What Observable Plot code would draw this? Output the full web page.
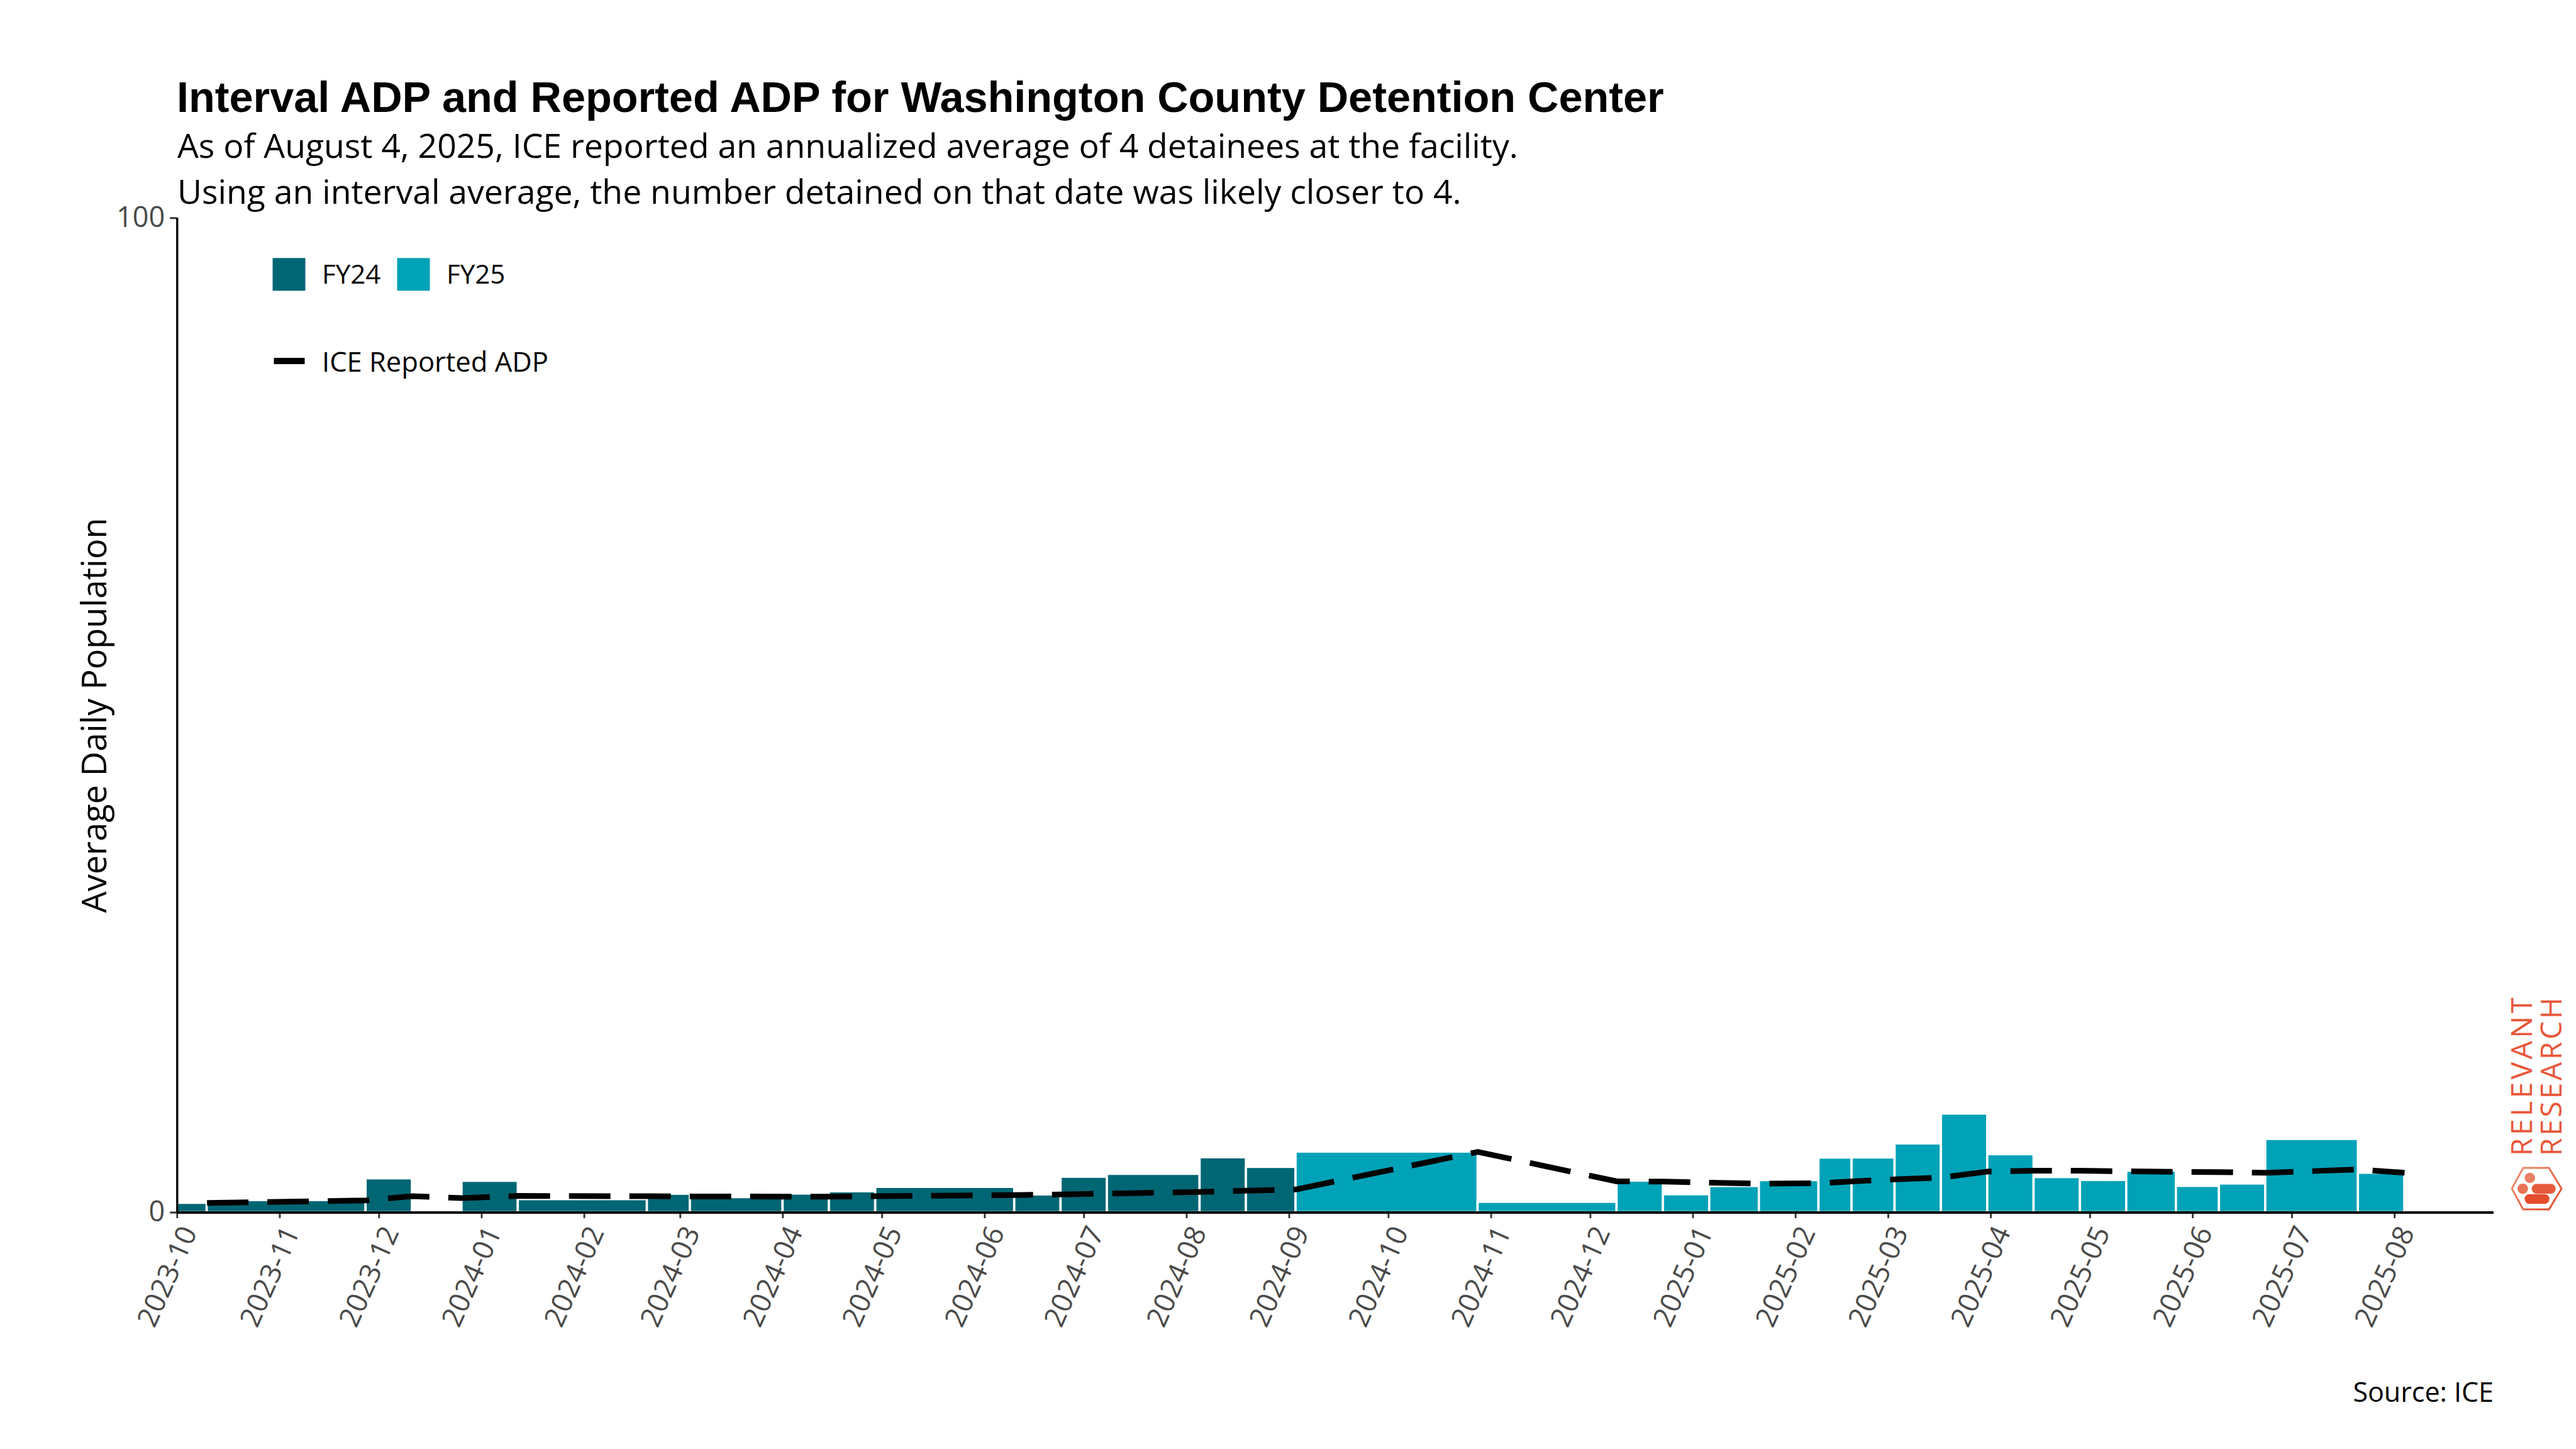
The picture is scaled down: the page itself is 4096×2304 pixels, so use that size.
<!DOCTYPE html>
<html><head><meta charset="utf-8">
<script src="https://cdn.jsdelivr.net/npm/d3@7"></script>
<script src="https://cdn.jsdelivr.net/npm/@observablehq/plot@0.6"></script>
<style>
html,body{margin:0;padding:0;background:#fff;}
#wrap{position:relative;width:4096px;height:2304px;overflow:hidden;background:#fff;}
#wrap > svg{position:absolute;left:0;top:0;}
#subtitle{position:absolute;left:282px;top:193.6px;font-family:'Open Sans','Noto Sans',sans-serif;font-size:53.5px;line-height:normal;color:#000;white-space:nowrap;z-index:2;}
</style></head><body><div id="wrap"></div>
<script>
// ---------- data ----------
const titleText = "Interval ADP and Reported ADP for Washington County Detention Center";
const subtitleLines = [
  "As of August 4, 2025, ICE reported an annualized average of 4 detainees at the facility.",
  "Using an interval average, the number detained on that date was likely closer to 4."
];
const yLabel = "Average Daily Population";
const sourceText = "Source: ICE";
const lineLegend = "ICE Reported ADP";

const fyNames = ["FY24", "FY25"];
const fyColors = ["#006674", "#00A2B7"];

const intervalStart = ["2023-10-01","2023-10-10","2023-11-27","2023-12-26","2024-01-12","2024-02-20","2024-03-04","2024-04-01","2024-04-15","2024-04-29","2024-06-10","2024-06-24","2024-07-08","2024-08-05","2024-08-19","2024-09-03","2024-10-28","2024-12-09","2024-12-23","2025-01-06","2025-01-21","2025-02-08","2025-02-18","2025-03-03","2025-03-17","2025-03-31","2025-04-14","2025-04-28","2025-05-12","2025-05-27","2025-06-09","2025-06-23","2025-07-21"];
const intervalEnd = ["2023-10-10","2023-11-27","2023-12-11","2024-01-12","2024-02-20","2024-03-04","2024-04-01","2024-04-15","2024-04-29","2024-06-10","2024-06-24","2024-07-08","2024-08-05","2024-08-19","2024-09-03","2024-10-28","2024-12-09","2024-12-23","2025-01-06","2025-01-21","2025-02-08","2025-02-18","2025-03-03","2025-03-17","2025-03-31","2025-04-14","2025-04-28","2025-05-12","2025-05-27","2025-06-09","2025-06-23","2025-07-21","2025-08-04"];
const intervalADP = [0.95,1.22,3.41,3.16,1.32,1.86,1.52,1.88,2.11,2.55,1.79,3.57,3.86,5.53,4.56,6.1,1.05,3.18,1.81,2.64,3.23,5.5,5.51,6.92,9.92,5.84,3.54,3.25,4.18,2.65,2.89,7.37,3.97];
const intervalFY = ["FY24","FY24","FY24","FY24","FY24","FY24","FY24","FY24","FY24","FY24","FY24","FY24","FY24","FY24","FY24","FY25","FY25","FY25","FY25","FY25","FY25","FY25","FY25","FY25","FY25","FY25","FY25","FY25","FY25","FY25","FY25","FY25","FY25"];

const reportDates = ["2023-10-10","2023-11-27","2023-12-11","2023-12-26","2024-01-12","2024-02-20","2024-03-04","2024-04-01","2024-04-15","2024-04-29","2024-06-10","2024-06-24","2024-07-08","2024-08-05","2024-08-19","2024-09-03","2024-10-28","2024-12-09","2024-12-23","2025-01-06","2025-01-21","2025-02-08","2025-02-18","2025-03-03","2025-03-17","2025-03-31","2025-04-14","2025-04-28","2025-05-12","2025-05-27","2025-06-09","2025-06-23","2025-07-21","2025-08-04"];
const reportedADP = [0.97,1.22,1.64,1.45,1.67,1.64,1.62,1.6,1.6,1.64,1.76,1.82,1.9,2.07,2.2,2.32,6.1,3.13,3.11,3.0,2.9,2.95,3.13,3.33,3.52,4.12,4.2,4.2,4.14,4.1,4.06,4.0,4.33,4.0];

const tickLabels = ["2023-10","2023-11","2023-12","2024-01","2024-02","2024-03","2024-04","2024-05","2024-06","2024-07","2024-08","2024-09","2024-10","2024-11","2024-12","2025-01","2025-02","2025-03","2025-04","2025-05","2025-06","2025-07","2025-08"];
const yTicks = [0, 100];
const xDomain = ["2023-10-01", "2025-08-31"];

// ---------- build ----------
const bars = intervalStart.map((s, i) => ({start: new Date(s), end: new Date(intervalEnd[i]), value: intervalADP[i], fy: intervalFY[i]}));
const reported = reportDates.map((d, i) => ({date: new Date(d), value: reportedADP[i]}));
const tickDates = tickLabels.map(t => new Date(t + "-01"));

const FONT = "'Open Sans', 'Noto Sans', sans-serif";

const chart = Plot.plot({
  width: 4096, height: 2304,
  marginLeft: 281.3, marginRight: 131, marginTop: 346.3, marginBottom: 376.5,
  style: {fontFamily: FONT, background: "white", overflow: "visible"},
  x: {type: "utc", domain: xDomain.map(d => new Date(d))},
  y: {domain: [0, 100]},
  color: {domain: fyNames, range: fyColors},
  marks: [
    Plot.rectY(bars, {x1: "start", x2: "end", y: "value", fill: "fy", stroke: "white", strokeWidth: 3.6}),
    Plot.line(reported, {x: "date", y: "value", stroke: "black", strokeWidth: 9, strokeDasharray: "66,30", strokeLinejoin: "round", strokeLinecap: "butt"}),
    Plot.axisY({ticks: yTicks, tickSize: 11, tickPadding: 8.5, fontSize: 45, fill: "#4a4a4a", stroke: "#333", strokeWidth: 3, label: null, fontFamily: FONT}),
    Plot.axisX({ticks: tickDates, tickSize: 9.5, tickFormat: () => "", stroke: "#333", strokeWidth: 2.8, label: null}),
    Plot.text(tickDates, {x: d => d, text: (d, i) => tickLabels[i], frameAnchor: "bottom", rotate: -66, textAnchor: "end", lineAnchor: "bottom", dx: 32.4, dy: 30.7, fontSize: 45, fill: "#4a4a4a", fontFamily: FONT}),
    Plot.ruleY([0], {stroke: "black", strokeWidth: 4}),
    Plot.ruleX([new Date(xDomain[0])], {stroke: "black", strokeWidth: 3.4}),
    Plot.text([yLabel], {frameAnchor: "left", dx: -130.3, rotate: -90, textAnchor: "middle", lineAnchor: "middle", fontSize: 54, fill: "black", fontFamily: FONT})
  ]
});
const wrap = document.getElementById("wrap");
wrap.appendChild(chart);

// ---------- overlay: title, subtitle, legend, source, logo ----------
const ov = d3.select("#wrap").append("svg").attr("width", 4096).attr("height", 2304).style("pointer-events", "none");
ov.append("text").attr("x", 281).attr("y", 177.7).attr("font-family", "'Liberation Sans', Arial, sans-serif")
  .attr("font-weight", "bold").attr("font-size", 68.4).attr("fill", "black").text(titleText);

const subDiv = document.createElement("div");
subDiv.id = "subtitle";
subtitleLines.forEach((t, i) => {
  if (i) subDiv.appendChild(document.createElement("br"));
  subDiv.appendChild(document.createTextNode(t));
});
wrap.appendChild(subDiv);

// legend
const swX = [433.5, 631.5], txtX = [512, 710];
fyNames.forEach((n, i) => {
  ov.append("rect").attr("x", swX[i]).attr("y", 410.3).attr("width", 52).attr("height", 52).attr("fill", fyColors[i]);
  ov.append("text").attr("x", txtX[i]).attr("y", 451).attr("font-family", FONT).attr("font-size", 42).attr("fill", "black").text(n);
});
ov.append("line").attr("x1", 435.5).attr("x2", 484.5).attr("y1", 574).attr("y2", 574).attr("stroke", "black").attr("stroke-width", 10);
ov.append("text").attr("x", 512).attr("y", 590.5).attr("font-family", FONT).attr("font-size", 43.5).attr("fill", "black").text(lineLegend);

// source
ov.append("text").attr("x", 3965).attr("y", 2229).attr("text-anchor", "end").attr("font-family", FONT)
  .attr("font-size", 43).attr("fill", "black").text(sourceText);

// logo
const defs = ov.append("defs");
const g = defs.append("linearGradient").attr("id", "lg").attr("x1", 0).attr("y1", 0).attr("x2", 1).attr("y2", 1);
g.append("stop").attr("offset", "0%").attr("stop-color", "#EF9275");
g.append("stop").attr("offset", "100%").attr("stop-color", "#E2421F");
const logo = ov.append("g");
logo.append("text").attr("transform", "translate(4026,1838) rotate(-90)").attr("font-family", FONT).attr("font-weight", 400)
  .attr("font-size", 46).attr("fill", "#E8573A").attr("textLength", 252).attr("lengthAdjust", "spacing").text("RELEVANT");
logo.append("text").attr("transform", "translate(4073,1838) rotate(-90)").attr("font-family", FONT).attr("font-weight", 400)
  .attr("font-size", 46).attr("fill", "#E8573A").attr("textLength", 252).attr("lengthAdjust", "spacing").text("RESEARCH");
logo.append("polygon").attr("points", "3994,1890 4012,1857 4053,1857 4073,1890 4053,1923 4012,1923")
  .attr("fill", "none").attr("stroke", "url(#lg)").attr("stroke-width", 2.8);
logo.append("circle").attr("cx", 4022.7).attr("cy", 1873).attr("r", 8.3).attr("fill", "#EC8063");
logo.append("circle").attr("cx", 4011.4).attr("cy", 1890.2).attr("r", 8.3).attr("fill", "#EA7254");
logo.append("line").attr("x1", 4033.3).attr("x2", 4056).attr("y1", 1890.2).attr("y2", 1890.2).attr("stroke", "#E65B3C").attr("stroke-width", 15.5).attr("stroke-linecap", "round");
logo.append("line").attr("x1", 4022).attr("x2", 4046).attr("y1", 1906.5).attr("y2", 1906.5).attr("stroke", "#E44C2C").attr("stroke-width", 15.5).attr("stroke-linecap", "round");
</script></body></html>
